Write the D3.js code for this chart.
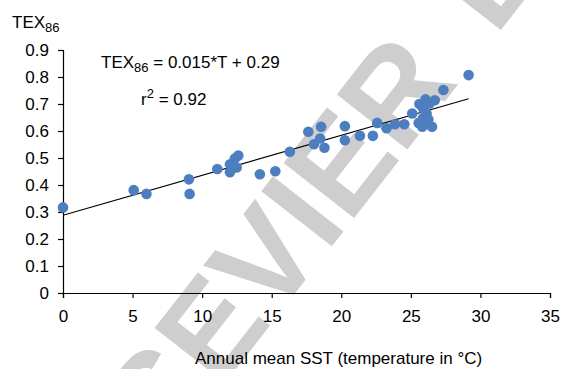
<!DOCTYPE html>
<html>
<head>
<meta charset="utf-8">
<script src="https://cdn.jsdelivr.net/npm/d3@7"></script>
<style>
  html, body { margin: 0; padding: 0; background: #fff; }
  svg { display: block; }
  text { font-family: "Liberation Sans", Arial, Helvetica, sans-serif; fill: #000; }
</style>
</head>
<body>
<svg id="chart" width="562" height="369"></svg>
<script>
// ---- data ----
const sst = [0, 5.08, 6.0, 9.05, 9.1, 11.09, 12.0, 12.0, 12.35, 12.6, 12.48,
  14.15, 15.26, 16.3, 17.63, 18.55, 18.04, 18.48, 18.79, 20.26, 20.26,
  21.34, 22.27, 22.58, 23.25, 23.86, 24.53, 25.1, 25.61, 26.05, 26.72,
  27.34, 29.15, 25.56, 25.82, 26.52, 26.13, 26.26, 25.87, 26.34, 25.87];
const tex86 = [0.317, 0.381, 0.367, 0.421, 0.367, 0.459, 0.477, 0.447, 0.498, 0.509, 0.465,
  0.44, 0.451, 0.523, 0.597, 0.616, 0.551, 0.572, 0.538, 0.618, 0.566,
  0.582, 0.582, 0.63, 0.61, 0.625, 0.625, 0.665, 0.70, 0.717, 0.714,
  0.752, 0.807, 0.63, 0.616, 0.616, 0.665, 0.643, 0.684, 0.702, 0.647];
const xTicks = [0, 5, 10, 15, 20, 25, 30, 35];
const yTicks = [0, 0.1, 0.2, 0.3, 0.4, 0.5, 0.6, 0.7, 0.8, 0.9];
const fitSlope = 0.0148;
const fitIntercept = 0.288;
const eqMain = "TEX", eqSub = "86", eqRest = " = 0.015*T + 0.29";
const r2Text = "0.92";
const xTitle = "Annual mean SST (temperature in \u00B0C)";
const watermark = "ELSEVIER";

// ---- layout ----
const W = 562, H = 369;
const margin = { left: 63, top: 50, right: 12, bottom: 76 };
const svg = d3.select("#chart");

const x = d3.scaleLinear().domain([0, 35]).range([margin.left, W - margin.right]);
const y = d3.scaleLinear().domain([0, 0.9]).range([H - margin.bottom, margin.top]);

// watermark (behind everything), repeated along one diagonal
const wmSize = 130, wmAngle = -52;
const wm = svg.append("text")
  .attr("transform", `translate(64,589) rotate(${wmAngle})`)
  .attr("font-size", wmSize)
  .attr("font-weight", "bold")
  .style("fill", "#cecece");
wm.append("tspan").text(watermark);
wm.append("tspan").attr("dx", 58).text(watermark);

// axes
const xAxis = d3.axisBottom(x).tickValues(xTicks).tickFormat(d3.format("d")).tickSizeOuter(0).tickSize(5).tickPadding(12);
const yAxis = d3.axisLeft(y).tickValues(yTicks).tickFormat(d => d === 0 ? "0" : d3.format(".1f")(d)).tickSizeOuter(0).tickSize(5).tickPadding(9);

const gx = svg.append("g").attr("transform", `translate(0,${y(0)})`).call(xAxis);
const gy = svg.append("g").attr("transform", `translate(${x(0)},0)`).call(yAxis);
[gx, gy].forEach(g => {
  g.selectAll("path, line").attr("stroke", "#000").attr("stroke-width", 1.2);
  g.selectAll("text").attr("font-size", 17).attr("font-family", "Liberation Sans, Arial, sans-serif").style("fill", "#000");
});

// trend line
const xMax = d3.max(sst);
svg.append("line")
  .attr("x1", x(0)).attr("y1", y(fitIntercept))
  .attr("x2", x(xMax)).attr("y2", y(fitIntercept + fitSlope * xMax))
  .attr("stroke", "#000").attr("stroke-width", 1.2);

// points
svg.append("g").selectAll("circle")
  .data(sst.map((d, i) => [d, tex86[i]]))
  .join("circle")
  .attr("cx", d => x(d[0])).attr("cy", d => y(d[1]))
  .attr("r", 5.3)
  .attr("fill", "#4d7ebf");

// y title
const yt = svg.append("text").attr("x", 12).attr("y", 28).attr("font-size", 17);
yt.append("tspan").text("TEX");
yt.append("tspan").attr("font-size", 13).attr("dy", 4).text("86");

// equation
const eq = svg.append("text").attr("x", 101).attr("y", 68).attr("font-size", 17);
eq.append("tspan").text(eqMain);
eq.append("tspan").attr("font-size", 13).attr("dy", 4).text(eqSub);
eq.append("tspan").attr("dy", -4).text(eqRest);

const r2 = svg.append("text").attr("x", 141).attr("y", 105).attr("font-size", 17);
r2.append("tspan").text("r");
r2.append("tspan").attr("font-size", 13).attr("dy", -7).text("2");
r2.append("tspan").attr("dy", 7).text(" = " + r2Text);

// x title
svg.append("text").attr("x", 195).attr("y", 364).attr("font-size", 17).text(xTitle);
</script>
</body>
</html>
